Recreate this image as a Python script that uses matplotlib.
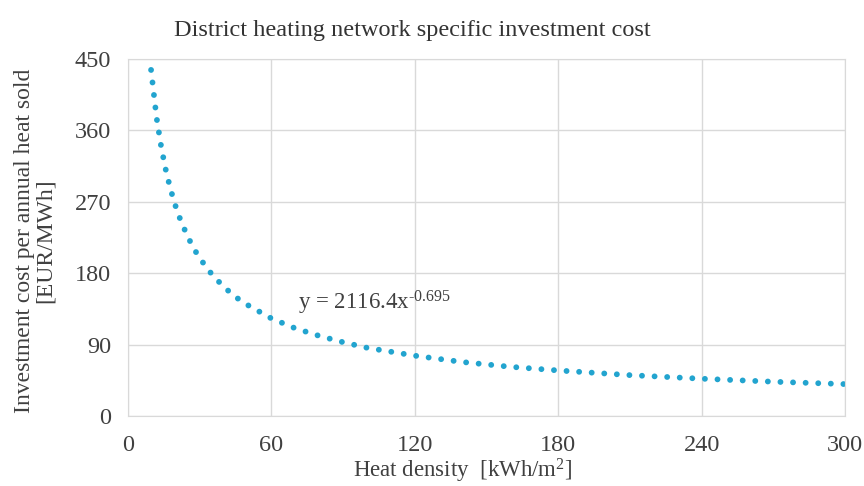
import numpy as np
import matplotlib.pyplot as plt

plt.rcParams['font.family'] = ['Liberation Serif', 'DejaVu Serif']
plt.rcParams['mathtext.fontset'] = 'custom'
plt.rcParams['mathtext.rm'] = 'Liberation Serif'
plt.rcParams['mathtext.it'] = 'Liberation Serif:italic'

# values read from the trendline
heat_density = [9.7, 12, 14, 16, 18, 20, 22, 25, 28, 30, 35, 40, 45, 50, 60, 70,
                80, 90, 100, 120, 140, 160, 180, 210, 240, 270, 300]
invest_cost = [436, 376, 338, 308, 284, 264, 247, 226, 209, 199, 179, 163, 150,
               140, 123, 110.5, 101, 93, 86, 76, 68, 62, 57.4, 51.5, 47, 43.2, 40.2]

xticks = [0, 60, 120, 180, 240, 300]
yticks = [0, 90, 180, 270, 360, 450]

fig = plt.figure(figsize=(8.64, 4.86), dpi=100)
ax = fig.add_axes([0.148, 0.144, 0.83, 0.735])

ax.plot(heat_density, invest_cost, color='#22a4cf', lw=4.2,
        linestyle=(0, (0.01, 2.15)), dash_capstyle='round')

ax.set_xlim(0, 300)
ax.set_ylim(0, 450)
ax.set_xticks(xticks)
ax.set_yticks(yticks)
ax.grid(color='#d9d9d9', lw=1)
ax.set_axisbelow(True)
for s in ax.spines.values():
    s.set_color('#d9d9d9')
ax.tick_params(length=0, labelsize=17.5, colors='#404040', pad=12)
ax.tick_params(axis='x', pad=14)

ax.text(71, 143, r'y = 2116.4x$^{\text{-0.695}}$', fontsize=16.5, color='#404040', va='center')

fig.text(0.477, 0.937, 'District heating network specific investment cost',
         ha='center', va='center', fontsize=17.5, color='#333333')
ax.set_xlabel(r'Heat density  [kWh/m$^2$]', fontsize=16.5, color='#404040')
ax.xaxis.set_label_coords(0.467, -0.115)
ax.set_ylabel('Investment cost per annual heat sold\n[EUR/MWh]', fontsize=17,
              color='#404040', linespacing=0.98)
ax.yaxis.set_label_coords(-0.1, 0.49)

fig.savefig('out.png', dpi=100)
